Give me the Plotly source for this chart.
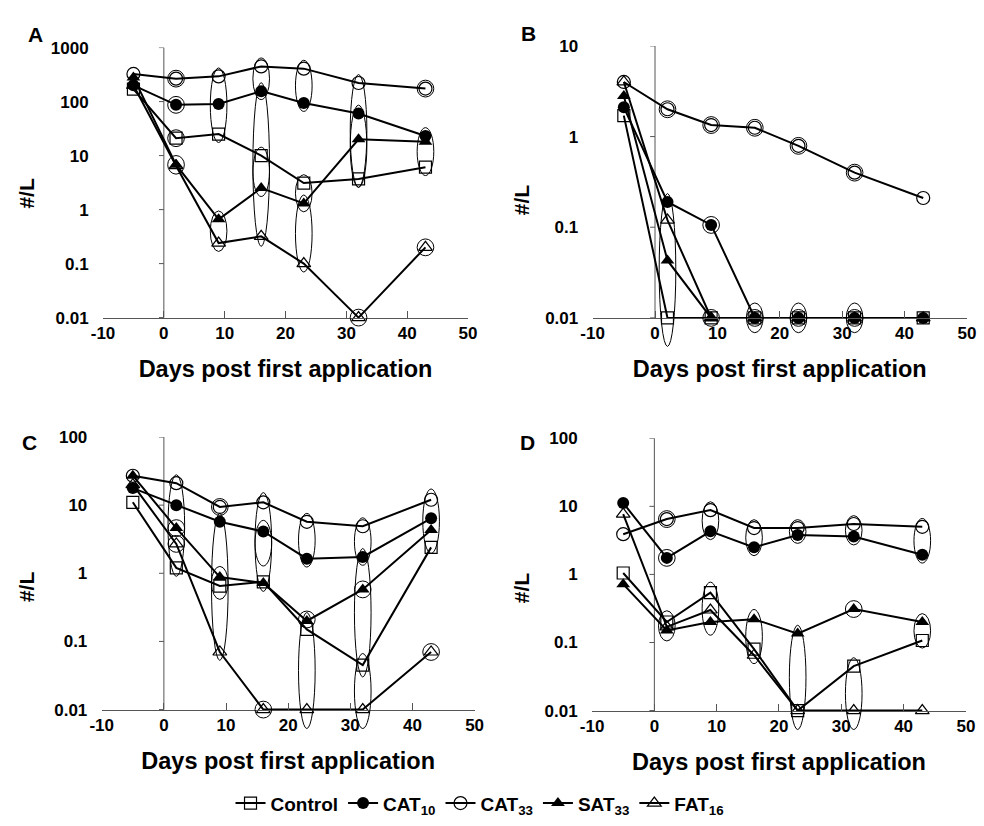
import numpy as np
import plotly.graph_objects as go

# ---------------- data ----------------
days = [-5, 2, 9, 16, 23, 32, 43]
series_names = ["Control", "CAT<sub>10</sub>", "CAT<sub>33</sub>", "SAT<sub>33</sub>", "FAT<sub>16</sub>"]

# Panel A
a_control = [170, 21, 25, 10, 3.1, 3.7, 6.1]
a_cat10 = [200, 87, 90, 156, 94, 60, 23]
a_cat33 = [325, 266, 293, 448, 407, 221, 174]
a_sat33 = [280, 6.8, 0.66, 2.5, 1.3, 20, 18]
a_fat16 = [200, 6.5, 0.24, 0.32, 0.1, 0.01, 0.2]

# Panel B
b_control = [1.7, 0.01, 0.01, 0.01, 0.01, 0.01, 0.01]
b_cat10 = [2.1, 0.19, 0.106, 0.01, 0.01, 0.01, 0.01]
b_cat33 = [4.0, 2.0, 1.34, 1.25, 0.79, 0.40, 0.21]
b_sat33 = [2.8, 0.043, 0.01, 0.01, 0.01, 0.01, 0.01]
b_fat16 = [4.0, 0.12, 0.01, 0.01, 0.01, 0.01, 0.01]

# Panel C
c_control = [11, 1.2, 0.65, 0.75, 0.15, 0.045, 2.4]
c_cat10 = [17.8, 10, 5.7, 4.1, 1.64, 1.74, 6.4]
c_cat33 = [27, 21, 9.4, 11, 5.7, 4.9, 12]
c_sat33 = [27, 4.6, 0.88, 0.72, 0.2, 0.58, 4.3]
c_fat16 = [20, 2.7, 0.07, 0.01, 0.01, 0.01, 0.07]

# Panel D
d_control = [1.05, 0.2, 0.54, 0.08, 0.01, 0.045, 0.107]
d_cat10 = [11.2, 1.75, 4.3, 2.5, 3.8, 3.6, 1.95]
d_cat33 = [3.9, 6.5, 8.8, 4.8, 4.8, 5.5, 5.0]
d_sat33 = [0.72, 0.15, 0.2, 0.22, 0.135, 0.31, 0.2]
d_fat16 = [7.7, 0.17, 0.3, 0.065, 0.01, 0.01, 0.01]

# grouping ellipses: (day, lowest value covered, highest value covered)
a_groups = [(2, 266, 266), (2, 87, 87), (2, 21, 21), (2, 6.5, 7),
            (9, 25, 293), (9, 0.24, 0.66),
            (16, 156, 448), (16, 0.3, 156), (16, 2.5, 10),
            (23, 94, 407), (23, 1.3, 3.1), (23, 0.1, 1.3),
            (32, 3.7, 221), (32, 3.7, 60), (32, 0.01, 0.01),
            (43, 174, 174), (43, 6.1, 23), (43, 0.2, 0.2)]
b_groups = [(2, 2.0, 2.0), (2, 0.006, 0.19),
            (9, 1.34, 1.34), (9, 0.106, 0.106), (9, 0.01, 0.01),
            (16, 1.25, 1.25), (16, 0.01, 0.01), (16, 0.0085, 0.0118),
            (23, 0.79, 0.79), (23, 0.01, 0.01), (23, 0.0085, 0.0118),
            (32, 0.40, 0.40), (32, 0.01, 0.01), (32, 0.0085, 0.0118)]
c_groups = [(2, 1.2, 21), (2, 4.6, 4.6), (2, 2.7, 2.7),
            (9, 9.4, 9.4), (9, 0.07, 5.7), (9, 0.55, 0.95),
            (16, 0.72, 11.5), (16, 1.7, 4.5), (16, 0.01, 0.01),
            (23, 1.64, 5.7), (23, 0.007, 0.2), (23, 0.21, 0.21),
            (32, 1.74, 4.9), (32, 0.04, 1.74), (32, 0.007, 0.05), (32, 0.58, 0.58),
            (43, 2.6, 13), (43, 0.07, 0.07)]
d_groups = [(2, 6.5, 6.5), (2, 1.75, 1.75), (2, 0.14, 0.22),
            (9, 4.3, 8.8), (9, 0.17, 0.58),
            (16, 2.5, 4.8), (16, 0.065, 0.23),
            (23, 3.8, 4.8), (23, 0.007, 0.135),
            (32, 3.6, 5.5), (32, 0.31, 0.31), (32, 0.007, 0.045),
            (43, 1.95, 5.0), (43, 0.11, 0.2)]

ytick_vals = [0.01, 0.1, 1, 10, 100, 1000]
ytick_text = ["0.01", "0.1", "1", "10", "100", "1000"]
xtick_vals = [-10, 0, 10, 20, 30, 40, 50]
xtick_text = ["-10", "0", "10", "20", "30", "40", "50"]
panel_letters = ["A", "B", "C", "D"]
x_title = "Days post first application"
y_title = "#/L"

# ---------------- styling / layout ----------------
W, H = 984, 826
FONT = "Liberation Sans, Arial, Helvetica, sans-serif"
AX_COLOR = "#555555"

panels = [
    dict(data=[a_control, a_cat10, a_cat33, a_sat33, a_fat16], groups=a_groups,
         left=93, right=466, top=39, bot=312, hi=3, letter_xy=(24, 26), ystand=10),
    dict(data=[b_control, b_cat10, b_cat33, b_sat33, b_fat16], groups=b_groups,
         left=593.3, right=975.7, top=37.3, bot=312.3, hi=1, letter_xy=(528, 25), ystand=9),
    dict(data=[c_control, c_cat10, c_cat33, c_sat33, c_fat16], groups=c_groups,
         left=91.7, right=472.7, top=432.7, bot=708.3, hi=2, letter_xy=(18, 438), ystand=13),
    dict(data=[d_control, d_cat10, d_cat33, d_sat33, d_fat16], groups=d_groups,
         left=592.7, right=974.7, top=434, bot=709.3, hi=2, letter_xy=(527, 438), ystand=9),
]

marker_styles = [
    dict(symbol="square-open", size=12, color="black", line=dict(width=1.2, color="black")),
    dict(symbol="circle", size=12, color="black"),
    dict(symbol="circle-open", size=13, color="black", line=dict(width=1.2, color="black")),
    dict(symbol="triangle-up", size=12, color="black"),
    dict(symbol="triangle-up-open", size=12, color="black", line=dict(width=1.2, color="black")),
]

fig = go.Figure()
shapes = []
annotations = []
EXT = 0.4  # decades of hidden room below 0.01 so marks at 0.01 are not cut

for k, p in enumerate(panels):
    i = k + 1
    xa = "x" if i == 1 else f"x{i}"
    ya = "y" if i == 1 else f"y{i}"
    xkey = "xaxis" if i == 1 else f"xaxis{i}"
    ykey = "yaxis" if i == 1 else f"yaxis{i}"

    ppd = (p["bot"] - p["top"]) / (p["hi"] + 2)        # px per decade
    ppx = (p["right"] - p["left"]) / 60.0              # px per day
    ext_px = EXT * ppd
    xdom = [p["left"] / W, p["right"] / W]
    ydom = [1 - (p["bot"] + ext_px) / H, 1 - p["top"] / H]
    x_axis_pos = 1 - p["bot"] / H

    for s, (name, vals) in enumerate(zip(series_names, p["data"])):
        fig.add_trace(go.Scatter(
            x=days, y=vals, mode="lines+markers", name=name,
            line=dict(color="black", width=2),
            marker=marker_styles[s], cliponaxis=False,
            legendgroup=name, showlegend=(i == 1),
            xaxis=xa, yaxis=ya))

    fig.layout[xkey] = dict(
        domain=xdom, range=[-10, 50], anchor="free", position=x_axis_pos,
        showline=True, linecolor=AX_COLOR, linewidth=1,
        ticks="inside", ticklen=7, tickcolor=AX_COLOR, tickwidth=1,
        tickvals=xtick_vals, ticktext=xtick_text, showgrid=False, zeroline=False,
        tickfont=dict(family=FONT, size=17, color="black", weight="bold"),
        title=dict(text=x_title, font=dict(family=FONT, size=23.5, color="black", weight="bold"), standoff=18),
    )
    # label axis sits at the left edge of the panel; its ticks are invisible spacers
    fig.layout[ykey] = dict(
        type="log", domain=ydom, range=[-2 - EXT, p["hi"]], anchor=xa, side="left",
        showline=False, ticks="outside", ticklen=10, tickcolor="rgba(0,0,0,0)",
        tickvals=ytick_vals, ticktext=ytick_text, showgrid=False, zeroline=False,
        tickfont=dict(family=FONT, size=17, color="black", weight="bold"),
        title=dict(text=y_title, font=dict(family=FONT, size=21, color="black", weight="bold"), standoff=p["ystand"]),
    )
    # vertical axis line at day 0 (from 0.01 up to the top tick) and its ticks
    top_val = 10 ** p["hi"]
    shapes.append(dict(type="line", xref=xa, yref=ya, x0=0, x1=0,
                       y0=ytick_vals[0], y1=top_val,
                       line=dict(color=AX_COLOR, width=1), layer="below"))
    tick_len_days = 5.0 / ppx
    for tv in ytick_vals:
        if tv <= top_val:
            shapes.append(dict(type="line", xref=xa, yref=ya, x0=-tick_len_days, x1=0,
                               y0=tv, y1=tv, line=dict(color=AX_COLOR, width=1), layer="below"))
    # grouping ellipses
    hw = 8.5 / ppx
    padf = 10 ** (8.5 / ppd)
    for (d, lo, hi) in p["groups"]:
        shapes.append(dict(type="circle", xref=xa, yref=ya,
                           x0=d - hw, x1=d + hw,
                           y0=lo / padf, y1=hi * padf,
                           line=dict(color="black", width=1),
                           fillcolor="rgba(0,0,0,0)", layer="above"))
    lx, ly = p["letter_xy"]
    annotations.append(dict(text=panel_letters[k], xref="paper", yref="paper",
                            x=lx / W, y=1 - ly / H, showarrow=False,
                            xanchor="center", yanchor="middle",
                            font=dict(family=FONT, size=21, color="black", weight="bold")))

fig.update_layout(
    width=W, height=H, margin=dict(l=0, r=0, t=0, b=0),
    paper_bgcolor="white", plot_bgcolor="white",
    shapes=shapes, annotations=annotations,
    font=dict(family=FONT, color="black"),
    legend=dict(orientation="h", x=0.486, xanchor="center", y=1 - 803 / H, yanchor="middle",
                font=dict(family=FONT, size=19, color="black", weight="bold"),
                itemwidth=30, bgcolor="rgba(0,0,0,0)"),
)

fig.write_html("out.html")
